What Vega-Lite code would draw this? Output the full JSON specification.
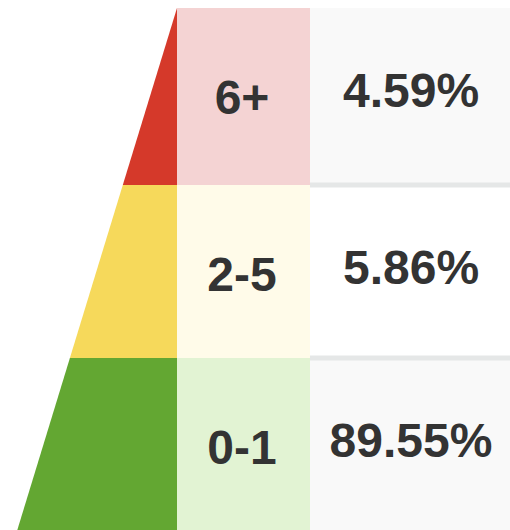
{
  "$schema": "https://vega.github.io/schema/vega-lite/v6.json",
  "width": 510,
  "height": 530,
  "padding": 0,
  "autosize": "none",
  "background": "white",
  "config": {"view": {"stroke": null}},
  "data": {
    "values": [
      {"tier": "6+", "share": "4.59%", "top": 0, "bottom": 1},
      {"tier": "2-5", "share": "5.86%", "top": 1, "bottom": 2},
      {"tier": "0-1", "share": "89.55%", "top": 2, "bottom": 3}
    ]
  },
  "layer": [
    {
      "transform": [{"fold": ["top", "bottom"], "as": ["edge", "level"]}],
      "mark": {"type": "area", "orient": "horizontal"},
      "encoding": {
        "y": {"field": "level", "type": "quantitative", "scale": {"domain": [0, 1, 2, 3], "range": [8, 185, 358, 532], "nice": false, "zero": false}, "axis": null},
        "x": {"field": "level", "type": "quantitative", "stack": null, "scale": {"domain": [0, 1, 2, 3], "range": [177, 122.8, 69.9, 16.7], "nice": false, "zero": false}, "axis": null},
        "x2": {"datum": 0},
        "color": {"field": "tier", "type": "nominal", "scale": {"domain": ["6+", "2-5", "0-1"], "range": ["#d5392a", "#f6d95b", "#63a732"]}, "legend": null}
      }
    },
    {
      "mark": {"type": "rect"},
      "encoding": {
        "x": {"datum": 177, "type": "quantitative", "scale": {"domain": [0, 510], "range": [0, 510], "nice": false, "zero": false}, "axis": null},
        "x2": {"datum": 310},
        "y": {"field": "top", "type": "quantitative", "scale": {"domain": [0, 1, 2, 3], "range": [8, 185, 358, 532], "nice": false, "zero": false}, "axis": null},
        "y2": {"field": "bottom"},
        "fill": {"field": "tier", "type": "nominal", "scale": {"domain": ["6+", "2-5", "0-1"], "range": ["#f4d3d3", "#fffbe9", "#e2f3d3"]}, "legend": null}
      }
    },
    {
      "mark": {"type": "rect"},
      "encoding": {
        "x": {"datum": 310, "type": "quantitative", "scale": {"domain": [0, 510], "range": [0, 510], "nice": false, "zero": false}, "axis": null},
        "x2": {"datum": 510},
        "y": {"field": "top", "type": "quantitative", "axis": null},
        "y2": {"field": "bottom"},
        "fill": {"field": "tier", "type": "nominal", "scale": {"domain": ["6+", "2-5", "0-1"], "range": ["#f9f9f9", "#ffffff", "#f9f9f9"]}, "legend": null}
      }
    },
    {
      "transform": [{"filter": "datum.bottom < 3"}],
      "mark": {"type": "rule", "strokeWidth": 5, "color": "#e5e7e7"},
      "encoding": {
        "x": {"datum": 310, "type": "quantitative", "scale": {"domain": [0, 510], "range": [0, 510], "nice": false, "zero": false}, "axis": null},
        "x2": {"datum": 510},
        "y": {"field": "bottom", "type": "quantitative", "axis": null}
      }
    },
    {
      "mark": {"type": "text", "font": "Liberation Sans", "fontWeight": "bold", "fontSize": 48, "color": "#333333", "align": "center", "baseline": "alphabetic", "dy": 106},
      "encoding": {
        "x": {"datum": 242, "type": "quantitative", "scale": {"domain": [0, 510], "range": [0, 510], "nice": false, "zero": false}, "axis": null},
        "y": {"field": "top", "type": "quantitative", "axis": null},
        "text": {"field": "tier"}
      }
    },
    {
      "mark": {"type": "text", "font": "Liberation Sans", "fontWeight": "bold", "fontSize": 48, "color": "#333333", "align": "center", "baseline": "alphabetic", "dy": 99},
      "encoding": {
        "x": {"datum": 411, "type": "quantitative", "scale": {"domain": [0, 510], "range": [0, 510], "nice": false, "zero": false}, "axis": null},
        "y": {"field": "top", "type": "quantitative", "axis": null},
        "text": {"field": "share"}
      }
    }
  ],
  "resolve": {"scale": {"x": "independent", "fill": "independent"}}
}
